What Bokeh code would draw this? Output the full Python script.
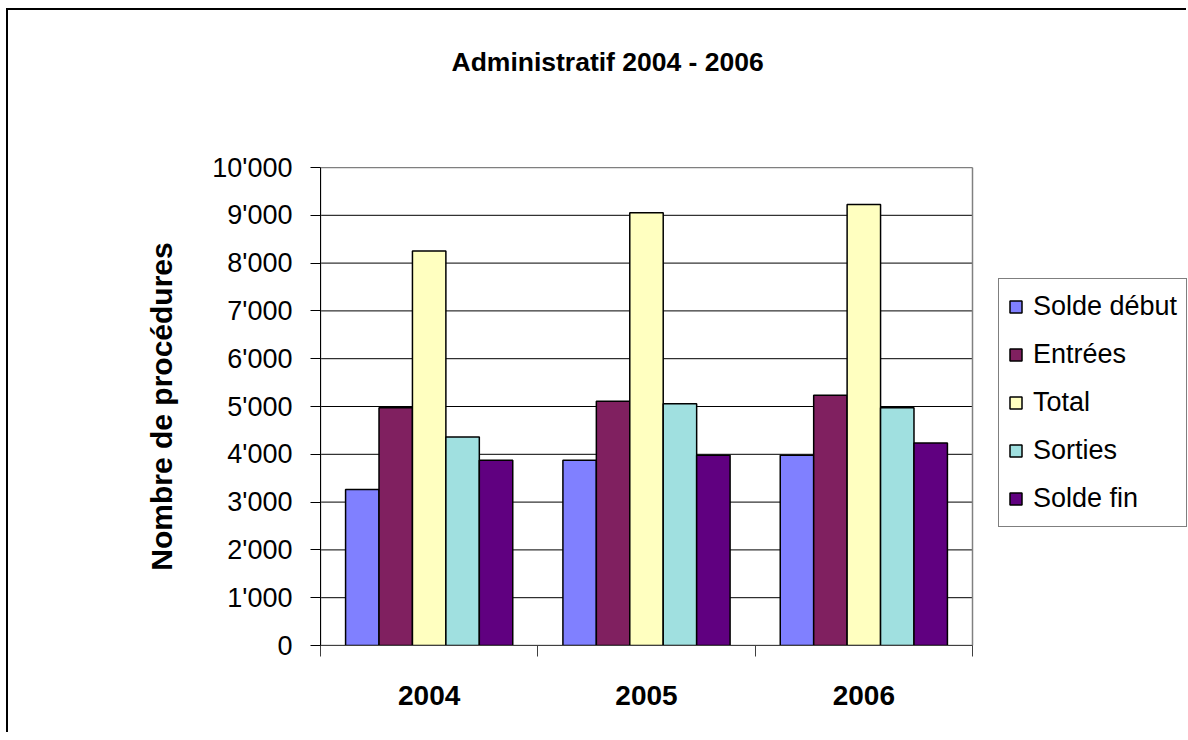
from bokeh.plotting import figure
from bokeh.models import (ColumnDataSource, FixedTicker, Legend, LegendItem, Range1d, Title)
from bokeh.embed import file_html
from bokeh.resources import INLINE
import numpy as np

years = ["2004", "2005", "2006"]
series_names = ["Solde début", "Entrées", "Total", "Sorties", "Solde fin"]
solde_debut = [3266, 3873, 3978]
entrees = [4975, 5108, 5234]
total = [8255, 9051, 9225]
sorties = [4360, 5059, 4976]
solde_fin = [3873, 3978, 4236]
colors = ["#8080FF", "#802060", "#FFFFC0", "#A0E0E0", "#600080"]
y_ticks = [0, 1000, 2000, 3000, 4000, 5000, 6000, 7000, 8000, 9000, 10000]
y_tick_labels = ["0", "1'000", "2'000", "3'000", "4'000", "5'000", "6'000",
                 "7'000", "8'000", "9'000", "10'000"]
y_max = 10000
chart_title = "Administratif 2004 - 2006"

FONT = "Liberation Sans"

# layout (pixels)
W, H = 1180, 724
BL, BT, BB = 312, 157, 89
CHART_PX = 652          # width of the visible plotting area
FRAME_PX = W - BL       # frame extends to the right edge (room for legend)
x_end = len(years) * FRAME_PX / CHART_PX

p = figure(width=W, height=H, output_backend="svg", toolbar_location=None,
           title=None,
           x_range=Range1d(0, x_end), y_range=Range1d(0, y_max),
           min_border_left=BL, min_border_right=0, min_border_top=BT,
           min_border_bottom=BB)
p.styles = {"border-top": "2px solid #000000", "border-left": "2px solid #000000",
            "margin-top": "8px", "margin-left": "6px"}

# spacer between frame and title, then the title itself
spacer = Title(text=" ", text_font_size="2px", standoff=87)
p.add_layout(spacer, "above")
main_title = Title(text=chart_title, align="left", offset=131, standoff=0,
                   text_font=FONT, text_font_style="bold", text_font_size="26.5px",
                   text_color="black")
p.add_layout(main_title, "above")

p.outline_line_color = None
p.background_fill_color = "white"
p.border_fill_color = "white"
p.xgrid.visible = False
p.ygrid.visible = False

# horizontal gridlines (from tick values) and the plot-area border
p.segment(x0=0, x1=len(years), y0=y_ticks, y1=y_ticks, line_color="black", line_width=1)
p.quad(left=0, right=len(years), bottom=0, top=y_max, fill_color=None,
       line_color="#808080", line_width=1.5)

all_series = [solde_debut, entrees, total, sorties, solde_fin]
bar_w = 1.0 / 6.5
centers = np.arange(len(years)) + 0.5
items = []
for i, (name, vals, col) in enumerate(zip(series_names, all_series, colors)):
    src = ColumnDataSource(dict(x=centers + (i - 2) * bar_w, top=vals))
    r = p.vbar(x="x", top="top", width=bar_w, bottom=0, source=src,
               fill_color=col, line_color="black", line_width=1.5)
    items.append(LegendItem(label=name, renderers=[r]))

# axes
p.yaxis.ticker = FixedTicker(ticks=y_ticks)
p.yaxis.major_label_overrides = {t: l for t, l in zip(y_ticks, y_tick_labels)}
p.yaxis.major_tick_out = 10
p.yaxis.major_tick_in = 0
p.yaxis.minor_tick_out = 0
p.yaxis.minor_tick_in = 0
p.yaxis.major_label_text_font = FONT
p.yaxis.major_label_text_font_size = "27px"
p.yaxis.major_label_text_color = "black"
p.yaxis.major_label_standoff = 18
p.yaxis.axis_line_color = "black"
p.yaxis.major_tick_line_color = "black"
p.yaxis.axis_label = "Nombre de procédures"
p.yaxis.axis_label_text_font = FONT
p.yaxis.axis_label_text_font_style = "bold"
p.yaxis.axis_label_text_font_size = "30px"
p.yaxis.axis_label_text_color = "black"
p.yaxis.axis_label_standoff = 31

p.xaxis.bounds = (0, len(years))
p.xaxis.ticker = FixedTicker(ticks=list(centers), minor_ticks=list(range(len(years) + 1)))
p.xaxis.major_label_overrides = {float(c): y for c, y in zip(centers, years)}
p.xaxis.major_tick_out = 0
p.xaxis.major_tick_in = 0
p.xaxis.minor_tick_out = 11
p.xaxis.minor_tick_in = 0
p.xaxis.minor_tick_line_color = "#404040"
p.xaxis.axis_line_color = "#404040"
p.xaxis.major_label_text_font = FONT
p.xaxis.major_label_text_font_style = "bold"
p.xaxis.major_label_text_font_size = "28px"
p.xaxis.major_label_text_color = "black"
p.xaxis.major_label_standoff = 29

legend = Legend(items=items, location=(678, 118),
                label_text_font=FONT, label_text_font_size="27px",
                label_text_color="black",
                glyph_width=15, glyph_height=15, label_standoff=10,
                label_height=37, spacing=11, padding=9, margin=0,
                border_line_color="black", border_line_width=1,
                background_fill_color="white", background_fill_alpha=1)
p.add_layout(legend, "center")

open("out.html", "w").write(file_html(p, INLINE))
